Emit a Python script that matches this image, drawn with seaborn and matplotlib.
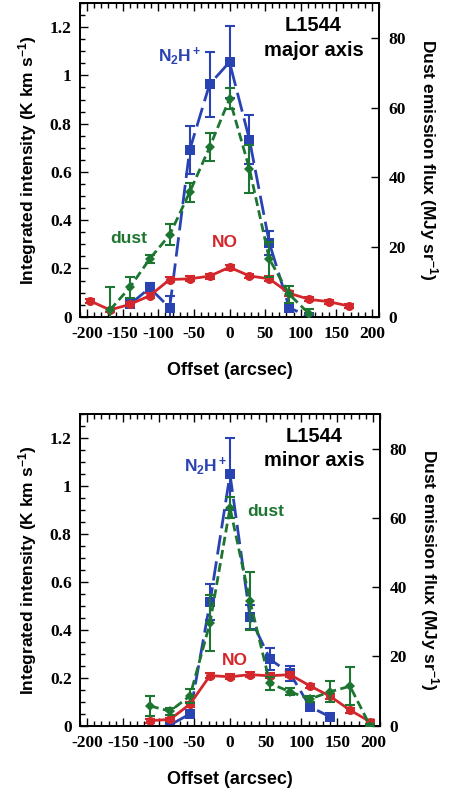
import matplotlib
matplotlib.use("Agg")
import matplotlib.pyplot as plt
import seaborn as sns
import numpy as np
import pandas as pd
from matplotlib.ticker import MultipleLocator, FuncFormatter

sns.set_theme(style="white")
plt.rcParams['font.family'] = ['Liberation Sans', 'DejaVu Sans']
plt.rcParams['mathtext.fontset'] = 'custom'
plt.rcParams['mathtext.rm'] = 'Liberation Sans:bold'
plt.rcParams['mathtext.it'] = 'Liberation Sans:bold'
plt.rcParams['mathtext.bf'] = 'Liberation Sans:bold'

# ---------------- data: major axis ----------------
maj_no_x = [-196, -168, -140, -112, -84, -56, -28, 0, 28, 56, 84, 112, 140, 168]
maj_no_y = [0.066, 0.028, 0.051, 0.087, 0.154, 0.157, 0.168, 0.205, 0.169, 0.157, 0.097, 0.072, 0.062, 0.044]
maj_no_e = [0.008, 0.008, 0.008, 0.01, 0.01, 0.01, 0.01, 0.01, 0.01, 0.01, 0.01, 0.008, 0.008, 0.008]

maj_n2h_x = [-140, -112, -84, -56, -28, 0, 28, 56, 84, 112]
maj_n2h_y = [0.051, 0.119, 0.037, 0.69, 0.963, 1.055, 0.734, 0.305, 0.037, 0.0]
maj_n2h_e = [0.01, 0.02, 0.05, 0.1, 0.135, 0.15, 0.1, 0.05, 0.01, 0.01]

maj_dust_x = [-168, -140, -112, -84, -56, -28, 0, 28, 56, 84, 112]
maj_dust_y = [1.9, 8.4, 16.6, 23.5, 35.7, 48.6, 62.5, 42.4, 16.5, 6.4, 0.8]
maj_dust_e = [6.5, 3.0, 1.2, 3.0, 2.8, 4.0, 3.0, 7.0, 5.0, 2.5, 1.5]

# ---------------- data: minor axis ----------------
min_no_x = [-112, -84, -56, -28, 0, 28, 56, 84, 112, 140, 168, 196]
min_no_y = [0.021, 0.026, 0.09, 0.209, 0.204, 0.213, 0.208, 0.213, 0.166, 0.123, 0.065, 0.017]
min_no_e = [0.008, 0.008, 0.01, 0.01, 0.01, 0.01, 0.01, 0.01, 0.01, 0.01, 0.01, 0.008]

min_n2h_x = [-84, -56, -28, 0, 28, 56, 84, 112, 140]
min_n2h_y = [0.003, 0.049, 0.514, 1.048, 0.453, 0.277, 0.218, 0.079, 0.037]
min_n2h_e = [0.008, 0.01, 0.075, 0.15, 0.05, 0.045, 0.03, 0.015, 0.008]

min_dust_x = [-112, -84, -56, -28, 0, 28, 56, 84, 112, 140, 168, 196]
min_dust_y = [5.7, 4.2, 8.6, 29.7, 62.9, 36.0, 12.2, 9.8, 7.7, 9.8, 11.4, 0.0]
min_dust_e = [3.0, 1.0, 2.0, 8.0, 3.0, 8.5, 2.0, 1.0, 1.0, 3.0, 5.5, 0.5]

x_ticks = [-200, -150, -100, -50, 0, 50, 100, 150, 200]
left_ticks = [0, 0.2, 0.4, 0.6, 0.8, 1.0, 1.2]
right_ticks = [0, 20, 40, 60, 80]

BLUE = '#2a43b3'
GREEN = '#1c7530'
RED = '#d3272b'
tickfont = dict(family='Liberation Serif', weight='bold', size=12.5)


def series(ax, xs, ys, es, color, marker, ls, ms, z):
    df = pd.DataFrame({'x': xs, 'y': ys})
    sns.lineplot(data=df, x='x', y='y', ax=ax, color=color, sort=False,
                 errorbar=None, linestyle=ls, linewidth=2.0, marker=marker,
                 markersize=ms, markeredgewidth=0, zorder=z)
    ax.errorbar(xs, ys, yerr=es, fmt='none', ecolor=color, elinewidth=1.5,
                capsize=3.5, capthick=1.5, zorder=z + 0.5)


def panel(fig, rect, no, n2h, dust, title2, n2h_pos, dust_pos, no_pos):
    ax = fig.add_axes(rect)
    ax2 = ax.twinx()
    series(ax, *n2h, BLUE, 's', (0, (7, 2.5)), 6.5, 3)
    series(ax, *no, RED, 'o', '-', 6.5, 4)
    series(ax2, *dust, GREEN, 'D', (0, (3.2, 1.6)), 5.5, 3)

    ax.set_xlim(-210, 210)
    ax.set_ylim(0, 1.3)
    ax2.set_ylim(0, 90)
    ax.set_xticks(x_ticks)
    ax.xaxis.set_minor_locator(MultipleLocator(10))
    ax.set_yticks(left_ticks)
    ax.yaxis.set_minor_locator(MultipleLocator(0.05))
    ax2.set_yticks(right_ticks)
    ax.yaxis.set_major_formatter(FuncFormatter(lambda v, p: '%g' % v))
    ax.xaxis.set_major_formatter(FuncFormatter(lambda v, p: '%g' % v))

    for a in (ax, ax2):
        for s in a.spines.values():
            s.set_color('black')
            s.set_linewidth(1.3)
    ax.tick_params(axis='x', which='both', direction='in', top=True, bottom=True,
                   color='black', width=1.0, pad=7)
    ax.tick_params(axis='x', which='major', length=6)
    ax.tick_params(axis='x', which='minor', length=3.5)
    ax.tick_params(axis='y', which='both', direction='in', left=True, right=False,
                   color='black', width=1.0, pad=6)
    ax.tick_params(axis='y', which='major', length=6)
    ax.tick_params(axis='y', which='minor', length=3.5)
    ax2.tick_params(axis='y', which='major', direction='in', right=True, length=6,
                    color='black', width=1.0, pad=7)
    for lab in ax.get_xticklabels() + ax.get_yticklabels() + ax2.get_yticklabels():
        lab.set_fontproperties(tickfont)
        lab.set_color('black')

    ax.set_xlabel('Offset (arcsec)', fontsize=13, fontweight='bold', labelpad=14,
                  color='black')
    ax.set_ylabel('Integrated intensity (K km s$^{-1}$)', fontsize=12.5,
                  fontweight='bold', labelpad=8, color='black')
    ax2.set_ylabel('Dust emission flux (MJy sr$^{-1}$)', fontsize=12.5,
                   fontweight='bold', rotation=-90, labelpad=24, color='black')

    ax.text(118, 1.205, 'L1544', ha='center', va='center', fontsize=14.5,
            fontweight='bold', color='black')
    ax.text(118, 1.105, title2, ha='center', va='center', fontsize=14.5,
            fontweight='bold', color='black')
    ax.text(n2h_pos[0], n2h_pos[1], 'N$_2$H$^+$', ha='left', va='baseline',
            fontsize=12.5, fontweight='bold', color=BLUE)
    ax.text(dust_pos[0], dust_pos[1], 'dust', ha='center', va='center',
            fontsize=12.5, fontweight='bold', color=GREEN)
    ax.text(no_pos[0], no_pos[1], 'NO', ha='center', va='center',
            fontsize=12.5, fontweight='bold', color=RED)
    ax.grid(False)
    ax2.grid(False)
    return ax


fig = plt.figure(figsize=(4.49, 7.96), dpi=100)
fig.patch.set_facecolor('white')
panel(fig, [80 / 449, 1 - 316.7 / 796, 299 / 449, 313.7 / 796],
      (maj_no_x, maj_no_y, maj_no_e), (maj_n2h_x, maj_n2h_y, maj_n2h_e),
      (maj_dust_x, maj_dust_y, maj_dust_e), 'major axis',
      (-100, 1.06), (-141, 0.326), (-6, 0.306))
panel(fig, [80 / 449, 1 - 725.7 / 796, 300 / 449, 311.7 / 796],
      (min_no_x, min_no_y, min_no_e), (min_n2h_x, min_n2h_y, min_n2h_e),
      (min_dust_x, min_dust_y, min_dust_e), 'minor axis',
      (-65, 1.062), (50, 0.895), (7, 0.273))

fig.savefig('out.png', dpi=100, facecolor='white')
